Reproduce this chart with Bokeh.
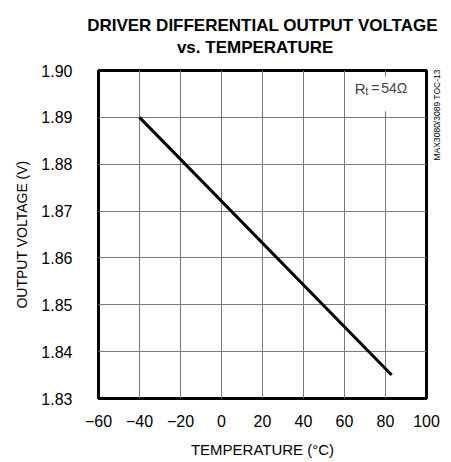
import math
from bokeh.plotting import figure
from bokeh.models import (Label, BoxAnnotation, FixedTicker, Range1d, Title,
                          LinearAxis, CustomJSTickFormatter)
from bokeh.embed import file_html
from bokeh.resources import INLINE

# data
temperature_c = [-40, 83]
output_voltage_v = [1.890, 1.835]

x_ticks = [-60, -40, -20, 0, 20, 40, 60, 80, 100]
y_ticks = [1.83, 1.84, 1.85, 1.86, 1.87, 1.88, 1.89, 1.90]

title_line1 = "DRIVER DIFFERENTIAL OUTPUT VOLTAGE"
title_line2 = "vs. TEMPERATURE"
x_label = "TEMPERATURE (°C)"
y_label = "OUTPUT VOLTAGE (V)"
side_note = "MAX3080/3089 TOC-13"

FONT = "Liberation Sans"

p = figure(frame_width=328, frame_height=328, output_backend="svg", toolbar_location=None,
           x_range=Range1d(-60, 100), y_range=Range1d(1.83, 1.90),
           min_border_left=98, min_border_right=22, min_border_top=68, min_border_bottom=50)

p.outline_line_color = "black"
p.outline_line_width = 3
p.background_fill_color = "white"
p.border_fill_color = "white"

def style_axis(ax):
    ax.major_tick_in = 0
    ax.major_tick_out = 0
    ax.minor_tick_in = 0
    ax.minor_tick_out = 0
    ax.axis_line_color = None
    ax.major_label_text_font = FONT
    ax.major_label_text_font_size = "16px"
    ax.major_label_text_color = "black"
    ax.axis_label_text_font = FONT
    ax.axis_label_text_font_style = "normal"
    ax.axis_label_text_color = "black"

style_axis(p.xaxis[0])
style_axis(p.yaxis[0])

p.xaxis.ticker = FixedTicker(ticks=x_ticks)
p.yaxis.ticker = FixedTicker(ticks=y_ticks)
p.yaxis.formatter = CustomJSTickFormatter(code="return tick.toFixed(2);")
p.xaxis.axis_label = x_label
p.yaxis.axis_label = y_label
p.xaxis.axis_label_text_font_size = "15px"
p.yaxis.axis_label_text_font_size = "14px"
p.xaxis.major_label_standoff = 16
p.yaxis.major_label_standoff = 26
p.xaxis.axis_label_standoff = 11
p.yaxis.axis_label_standoff = 8

p.xgrid.ticker = FixedTicker(ticks=x_ticks)
p.ygrid.ticker = FixedTicker(ticks=y_ticks)
for g in (p.xgrid[0], p.ygrid[0]):
    g.grid_line_color = "#7a7a7a"
    g.grid_line_width = 1

p.line(temperature_c, output_voltage_v, line_color="black", line_width=3)

# side note as a rotated label on a right-hand axis
side_axis = LinearAxis(ticker=FixedTicker(ticks=[1.8808]),
                       formatter=CustomJSTickFormatter(code="return '%s';" % side_note))
style_axis(side_axis)
side_axis.major_label_text_font_size = "8.5px"
side_axis.major_label_orientation = math.pi / 2
side_axis.major_label_standoff = 11
p.add_layout(side_axis, "right")

# two-line title; the second line is centred with no-break spaces
pad = "\u00a0" * 19
p.add_layout(Title(text=title_line1 + "\n" + pad + title_line2, align="center", text_font=FONT,
                   text_font_style="bold", text_font_size="17px", text_color="black",
                   text_line_height=1.15, standoff=27), "above")

# white box behind annotation
p.add_layout(BoxAnnotation(left=70, right=88, top=1.8987, bottom=1.8913,
                           fill_color="white", fill_alpha=1, line_alpha=0, level="underlay"))

# R_t = 54 Ohm
ax0 = 65.0
yo = -17.5
p.add_layout(Label(x=ax0, y=1.90, y_offset=yo, text="R", text_align="left",
                   text_baseline="alphabetic", text_font=FONT, text_font_size="15px"))
p.add_layout(Label(x=ax0, y=1.90, x_offset=10.5, y_offset=yo - 3, text="t", text_align="left",
                   text_baseline="alphabetic", text_font=FONT, text_font_size="11px"))
p.add_layout(Label(x=ax0, y=1.90, x_offset=16.5, y_offset=yo, text="=", text_align="left",
                   text_baseline="alphabetic", text_font=FONT, text_font_size="14px"))
p.add_layout(Label(x=ax0, y=1.90, x_offset=26.5, y_offset=yo, text="54Ω", text_align="left",
                   text_baseline="alphabetic", text_font=FONT, text_font_size="14px"))

open("out.html", "w").write(file_html(p, INLINE))
